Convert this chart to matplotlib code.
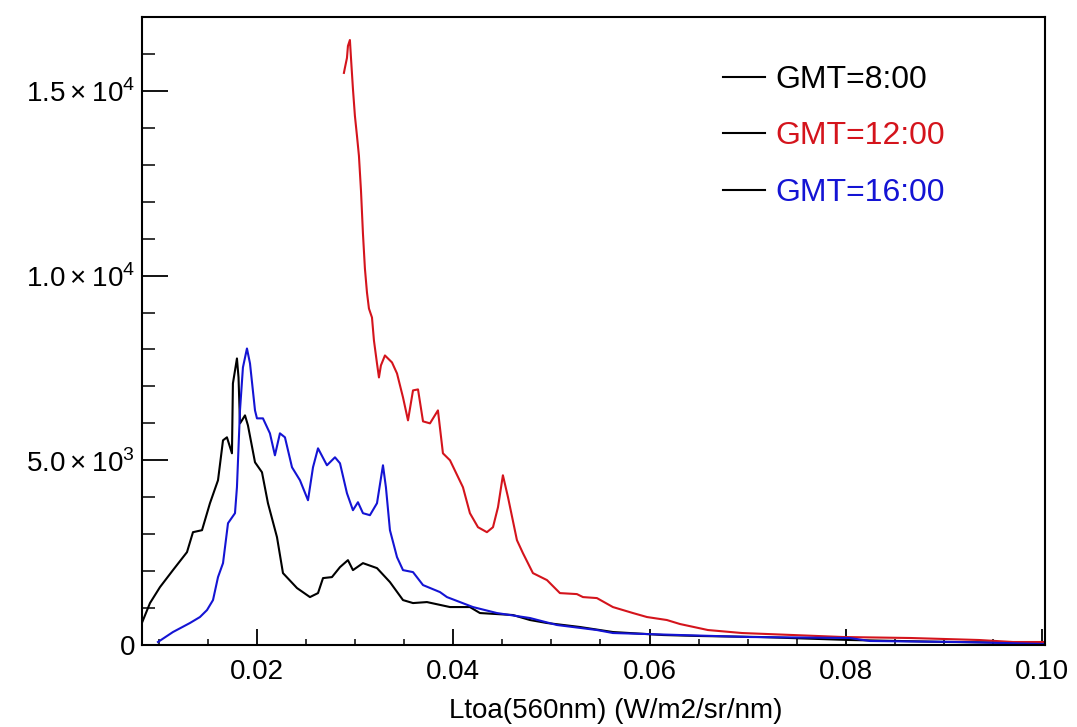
import matplotlib
matplotlib.use("Agg")
import matplotlib.pyplot as plt
from matplotlib.lines import Line2D
from matplotlib.ticker import MultipleLocator

plt.rcParams['font.family'] = ['Liberation Sans', 'DejaVu Sans']
plt.rcParams['mathtext.fontset'] = 'custom'
plt.rcParams['mathtext.rm'] = 'Liberation Sans'

# GMT = 8:00 (black)
x_08 = [0.00828, 0.0091, 0.01012, 0.01144, 0.01287, 0.01348, 0.01440, 0.01521, 0.01603,
        0.01654, 0.01694, 0.01745, 0.01755, 0.01796, 0.01812, 0.01827, 0.01847, 0.01878,
        0.01908, 0.01980, 0.02051, 0.02112, 0.02204, 0.02265, 0.02408, 0.02540, 0.02622,
        0.02673, 0.02764, 0.02846, 0.02927, 0.02978, 0.03080, 0.03223, 0.03355, 0.03488,
        0.03590, 0.03732, 0.03967, 0.04170, 0.04272, 0.04608, 0.04782, 0.04955, 0.05291,
        0.05627, 0.06137, 0.06514, 0.07125, 0.08042, 0.09061, 0.1003]
y_08 = [600, 1135, 1568, 2027, 2514, 3054, 3108, 3838, 4460,
        5541, 5622, 5190, 7082, 7757, 7244, 6000, 6081, 6216,
        5946, 4946, 4676, 3838, 2919, 1946, 1541, 1297, 1405,
        1811, 1838, 2108, 2297, 2027, 2216, 2081, 1703, 1216,
        1135, 1162, 1027, 1027, 865, 811, 676, 595, 487,
        351, 270, 243, 216, 135, 81, 54]

# GMT = 12:00 (red)
x_12 = [0.02886, 0.02896, 0.02917, 0.02927, 0.02947, 0.02958, 0.02978, 0.02998, 0.03019,
        0.03039, 0.03060, 0.03080, 0.03100, 0.03121, 0.03141, 0.03172, 0.03192, 0.03223,
        0.03243, 0.03263, 0.03304, 0.03376, 0.03427, 0.03488, 0.03539, 0.03590, 0.03641,
        0.03692, 0.03763, 0.03844, 0.03895, 0.03967, 0.04099, 0.04170, 0.04252, 0.04343,
        0.04405, 0.04456, 0.04506, 0.04558, 0.04649, 0.04710, 0.04812, 0.04955, 0.05087,
        0.05260, 0.05322, 0.05464, 0.05627, 0.05831, 0.05974, 0.06177, 0.06310, 0.06595,
        0.06942, 0.07461, 0.07971, 0.08664, 0.09357, 0.09703, 0.1003]
y_12 = [15487, 15622, 15892, 16216, 16378, 15892, 15054, 14324, 13784,
        13243, 12297, 11135, 10189, 9541, 9108, 8865, 8243, 7622,
        7243, 7568, 7838, 7649, 7351, 6703, 6081, 6892, 6919,
        6054, 6000, 6351, 5189, 5000, 4270, 3568, 3189, 3054,
        3189, 3730, 4595, 4000, 2838, 2487, 1946, 1757, 1405,
        1378, 1297, 1270, 1027, 865, 757, 676, 568, 405,
        324, 270, 216, 189, 135, 81, 81]

# GMT = 16:00 (blue)
x_16 = [0.00991, 0.01144, 0.01317, 0.01419, 0.01491, 0.01552, 0.01603, 0.01654, 0.01705,
        0.01776, 0.01796, 0.01827, 0.01857, 0.01898, 0.01929, 0.01980, 0.02000, 0.02061,
        0.02132, 0.02183, 0.02234, 0.02285, 0.02357, 0.02438, 0.02520, 0.02571, 0.02622,
        0.02713, 0.02795, 0.02846, 0.02917, 0.02978, 0.03029, 0.03080, 0.03151, 0.03223,
        0.03284, 0.03314, 0.03355, 0.03427, 0.03488, 0.03590, 0.03692, 0.03865, 0.03936,
        0.04201, 0.04445, 0.04782, 0.05057, 0.05464, 0.05627, 0.06310, 0.07023, 0.08042,
        0.08246, 0.09163, 0.1003]
y_16 = [81, 351, 595, 757, 946, 1216, 1838, 2216, 3297,
        3568, 4270, 6351, 7514, 8027, 7622, 6351, 6135, 6135,
        5730, 5135, 5730, 5622, 4811, 4460, 3919, 4811, 5324,
        4865, 5081, 4919, 4108, 3649, 3865, 3568, 3514, 3838,
        4865, 4270, 3108, 2378, 2027, 1973, 1622, 1432, 1297,
        1027, 865, 730, 541, 405, 324, 270, 216, 189,
        108, 81, 27]

labels = ['GMT=8:00', 'GMT=12:00', 'GMT=16:00']
colors = ['#000000', '#d4141c', '#1414d4']
x_ticks = [0.02, 0.04, 0.06, 0.08, 0.10]
y_ticks = [0, 5000, 10000, 15000]
y_tick_labels = ['0', r'$5.0\times10^{3}$', r'$1.0\times10^{4}$', r'$1.5\times10^{4}$']
x_label = 'Ltoa(560nm) (W/m2/sr/nm)'

fig = plt.figure(figsize=(10.77, 7.27), dpi=100)
ax = fig.add_axes([0.1318, 0.1128, 0.8385, 0.8638])

for xs, ys, c in zip([x_08, x_12, x_16], [y_08, y_12, y_16], colors):
    ax.plot(xs, ys, color=c, lw=1.5)

ax.set_xlim(0.00828, 0.1003)
ax.set_ylim(0, 17000)

ax.set_xticks(x_ticks)
ax.set_xticklabels(['%.2f' % v for v in x_ticks])
ax.xaxis.set_minor_locator(MultipleLocator(0.005))
ax.set_yticks(y_ticks)
ax.set_yticklabels(y_tick_labels)
ax.yaxis.set_minor_locator(MultipleLocator(1000))

ax.tick_params(axis='x', which='major', direction='in', length=11.5, width=1.3,
               labelsize=20, pad=10)
ax.tick_params(axis='x', which='minor', direction='in', length=4, width=1.1)
ax.tick_params(axis='y', which='major', direction='in', length=19, width=1.3,
               labelsize=20, pad=5)
ax.tick_params(axis='y', which='minor', direction='in', length=9.5, width=1.1)

for s in ax.spines.values():
    s.set_linewidth(1.5)

ax.set_xlabel(x_label, fontsize=20)
ax.xaxis.set_label_coords(0.525, -0.085)

handles = [Line2D([0], [0], color='black', lw=1.5) for _ in labels]
ax.legend(handles, labels, loc='upper right', bbox_to_anchor=(0.889, 0.924),
          frameon=False, fontsize=23, labelcolor=colors, handlelength=1.3,
          handletextpad=0.32, labelspacing=0.83, borderpad=0, borderaxespad=0)

fig.savefig('out.png', dpi=100)
